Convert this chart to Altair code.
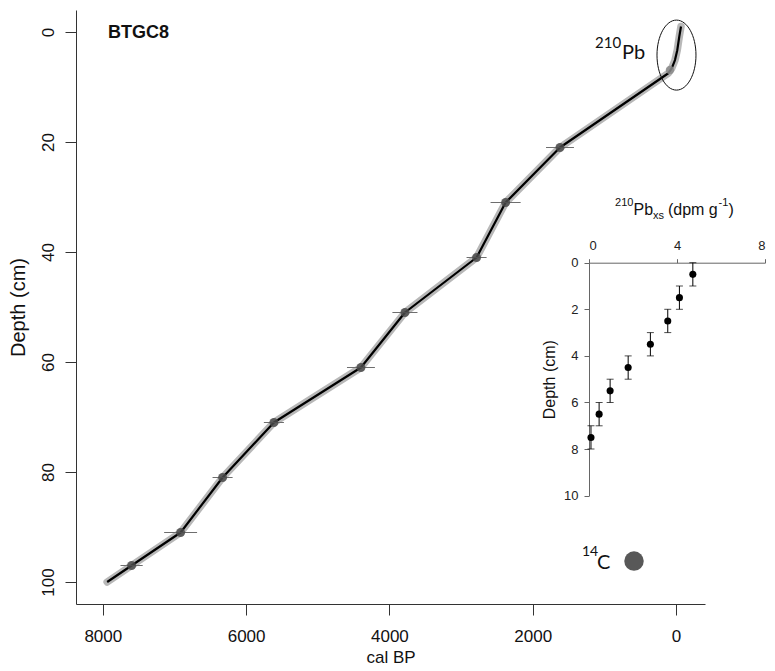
import altair as alt
import pandas as pd

# ---------------- data ----------------
# age-depth model (cal BP vs depth in cm)
model_age = [-70, -46, -18, 14, 60, 107, 1619, 2378, 2783, 3783, 4397, 5612, 6328, 6914, 7598, 7939]
model_depth = [-1.0, 0.85, 3.3, 5.1, 6.6, 7.5, 21, 31, 41, 51, 61, 71, 81, 91, 97, 100]

# 14C dates (calibrated age, depth, 1-sided error in years)
date_age = [1619, 2378, 2783, 3783, 4397, 5612, 6328, 6914, 7598]
date_depth = [21, 31, 41, 51, 61, 71, 81, 91, 97]
date_err = [195, 210, 140, 175, 195, 140, 140, 230, 155]

# 210Pb-dated base
pb_blob_age = [84]
pb_blob_depth = [6.9]

# inset: 210Pb excess profile
pb_value = [4.72, 4.11, 3.58, 2.79, 1.78, 0.96, 0.46, 0.09]
pb_depth = [0.5, 1.5, 2.5, 3.5, 4.5, 5.5, 6.5, 7.5]
pb_depth_top = [0, 1, 2, 3, 4, 5, 6, 7]
pb_depth_bottom = [1, 2, 3, 4, 5, 6, 7, 8]

x_ticks = [0, 2000, 4000, 6000, 8000]
y_ticks = [0, 20, 40, 60, 80, 100]
inset_x_ticks = [0, 4, 8]
inset_y_ticks = [0, 2, 4, 6, 8, 10]

core_name = ["BTGC8"]
core_age = [7927]
core_depth = [0.1]

label_text = ["210", "Pb", "14", "C"]
label_age = [1130, 754, 1312, 1103]
label_depth = [2.0, 3.8, 94.5, 96.5]
label_size = [15, 20, 14, 20]

inset_title_text = ["210", "Pb", "xs", "(dpm g", "-1", ")"]
inset_title_age = [851, 593, 321, 112, -593, -733]
inset_title_depth = [31.1, 32.4, 33.4, 32.4, 31.1, 32.4]
inset_title_size = [11, 16, 11, 16, 11, 16]

legend_age = [586]
legend_depth = [96.2]

ellipse_age = [-7]
ellipse_depth = [4.2]

# ---------------- tables ----------------
df_model = pd.DataFrame({"age": model_age, "depth": model_depth})
df_dates = pd.DataFrame({
    "age": date_age, "depth": date_depth,
    "lo": [a - e for a, e in zip(date_age, date_err)],
    "hi": [a + e for a, e in zip(date_age, date_err)],
})
df_blob = pd.DataFrame({"age": pb_blob_age, "depth": pb_blob_depth})
df_core = pd.DataFrame({"age": core_age, "depth": core_depth, "text": core_name})
df_labels = pd.DataFrame({"age": label_age, "depth": label_depth, "text": label_text, "fs": label_size})
df_ititle = pd.DataFrame({"age": inset_title_age, "depth": inset_title_depth,
                          "text": inset_title_text, "fs": inset_title_size})
df_legend = pd.DataFrame({"age": legend_age, "depth": legend_depth})
df_ellipse = pd.DataFrame({"age": ellipse_age, "depth": ellipse_depth})
df_pb = pd.DataFrame({"pb": pb_value, "idepth": pb_depth,
                      "top": pb_depth_top, "bottom": pb_depth_bottom})

# ---------------- main scales / axes ----------------
xs = alt.Scale(domain=[8374, -405], nice=False, zero=False)
ys = alt.Scale(domain=[-4, 104], nice=False, zero=False, reverse=True)

xaxis = alt.Axis(values=x_ticks, format="d", title="cal BP", grid=False,
                 labelFontSize=17, titleFontSize=17, tickSize=11, labelPadding=13,
                 titlePadding=5, domainColor="#333", tickColor="#333",
                 labelColor="#111", titleColor="#111")
yaxis = alt.Axis(values=y_ticks, format="d", title="Depth (cm)", grid=False,
                 labelFontSize=17, titleFontSize=20, tickSize=11, labelPadding=8,
                 labelAngle=-90, labelAlign="center", labelBaseline="bottom",
                 titlePadding=11, domainColor="#333", tickColor="#333",
                 labelColor="#111", titleColor="#111")

X = lambda f: alt.X(f, type="quantitative", scale=xs, axis=xaxis)
Y = lambda f: alt.Y(f, type="quantitative", scale=ys, axis=yaxis)

envelope = alt.Chart(df_model).mark_line(
    color="#b8b8b8", strokeWidth=7.5, strokeJoin="round", strokeCap="round"
).encode(x=X("age"), y=Y("depth"), order="depth:Q")

model_line = alt.Chart(df_model).mark_line(
    color="#000000", strokeWidth=2.2, strokeJoin="round"
).encode(x=X("age"), y=Y("depth"), order="depth:Q")

date_err_rules = alt.Chart(df_dates).mark_rule(color="#6e6e6e", strokeWidth=1).encode(
    x=X("lo"), x2="hi:Q", y=Y("depth"))

date_pts = alt.Chart(df_dates).mark_point(
    shape="circle", filled=True, color="#4a4a4a", opacity=0.85, size=80
).encode(x=X("age"), y=Y("depth"))

blob = alt.Chart(df_blob).mark_point(
    shape="circle", filled=True, color="#8a8a8a", opacity=0.85, size=70
).encode(x=X("age"), y=Y("depth"))

core_label = alt.Chart(df_core).mark_text(
    align="left", baseline="middle", fontSize=18, fontWeight="bold",
    font="Liberation Sans", color="#111"
).encode(x=X("age"), y=Y("depth"), text="text:N")

iso_labels = alt.Chart(df_labels).mark_text(
    align="left", baseline="middle", font="Lato", color="#111"
).encode(x=X("age"), y=Y("depth"), text="text:N", size=alt.Size("fs:Q", scale=None))

inset_title = alt.Chart(df_ititle).mark_text(
    align="left", baseline="middle", font="Liberation Sans", color="#111"
).encode(x=X("age"), y=Y("depth"), text="text:N", size=alt.Size("fs:Q", scale=None))

legend_dot = alt.Chart(df_legend).mark_point(
    shape="circle", filled=True, color="#585858", opacity=1, size=380
).encode(x=X("age"), y=Y("depth"))

ellipse = alt.Chart(df_ellipse).mark_point(
    shape="M0,-1A0.557,1,0,1,1,0,1A0.557,1,0,1,1,0,-1Z",
    filled=False, color="#111", strokeWidth=1, size=4900, opacity=1
).encode(x=X("age"), y=Y("depth"))

main = alt.layer(envelope, model_line, date_err_rules, date_pts, blob,
                 core_label, iso_labels, inset_title, legend_dot, ellipse)

# ---------------- inset ----------------
ixs = alt.Scale(domain=[0, 8], range=[513, 689], nice=False, zero=False)
iys = alt.Scale(domain=[0, 10], range=[252.7, 485.7], nice=False, zero=False)

ixaxis = alt.Axis(orient="top", offset=-252.7, values=inset_x_ticks, format="d", title=None,
                  grid=False, tickSize=4, labelPadding=6, labelFontSize=13,
                  domainColor="#666", tickColor="#666", labelColor="#222")
iyaxis = alt.Axis(orient="left", offset=-513, values=inset_y_ticks, format="d",
                  title="Depth (cm)", grid=False, tickSize=5, labelPadding=6,
                  labelFontSize=13, titleFontSize=16, titlePadding=6, labelAngle=0,
                  domainColor="#666", tickColor="#666", labelColor="#222",
                  titleColor="#111")

IX = lambda f: alt.X(f, type="quantitative", scale=ixs, axis=ixaxis)
IY = lambda f: alt.Y(f, type="quantitative", scale=iys, axis=iyaxis)

ierr = alt.Chart(df_pb).mark_rule(color="#000", strokeWidth=1).encode(
    x=IX("pb"), y=IY("top"), y2="bottom:Q")
icap_top = alt.Chart(df_pb).mark_tick(orient="horizontal", color="#000", size=7, thickness=1).encode(
    x=IX("pb"), y=IY("top"))
icap_bot = alt.Chart(df_pb).mark_tick(orient="horizontal", color="#000", size=7, thickness=1).encode(
    x=IX("pb"), y=IY("bottom"))
ipts = alt.Chart(df_pb).mark_point(shape="circle", filled=True, color="#000", opacity=1, size=50).encode(
    x=IX("pb"), y=IY("idepth"))

inset = alt.layer(ierr, icap_top, icap_bot, ipts)

chart = alt.layer(main, inset).resolve_scale(x="independent", y="independent").properties(
    width=629, height=594,
    autosize=alt.AutoSizeParams(type="none"),
    padding={"left": 76, "top": 10, "right": 70, "bottom": 67},
).configure_view(stroke=None).configure_axis(
    labelFont="Liberation Sans", titleFont="Liberation Sans", titleFontWeight="normal"
)

chart.save("out.html", embed_options={"renderer": "svg", "actions": False})
